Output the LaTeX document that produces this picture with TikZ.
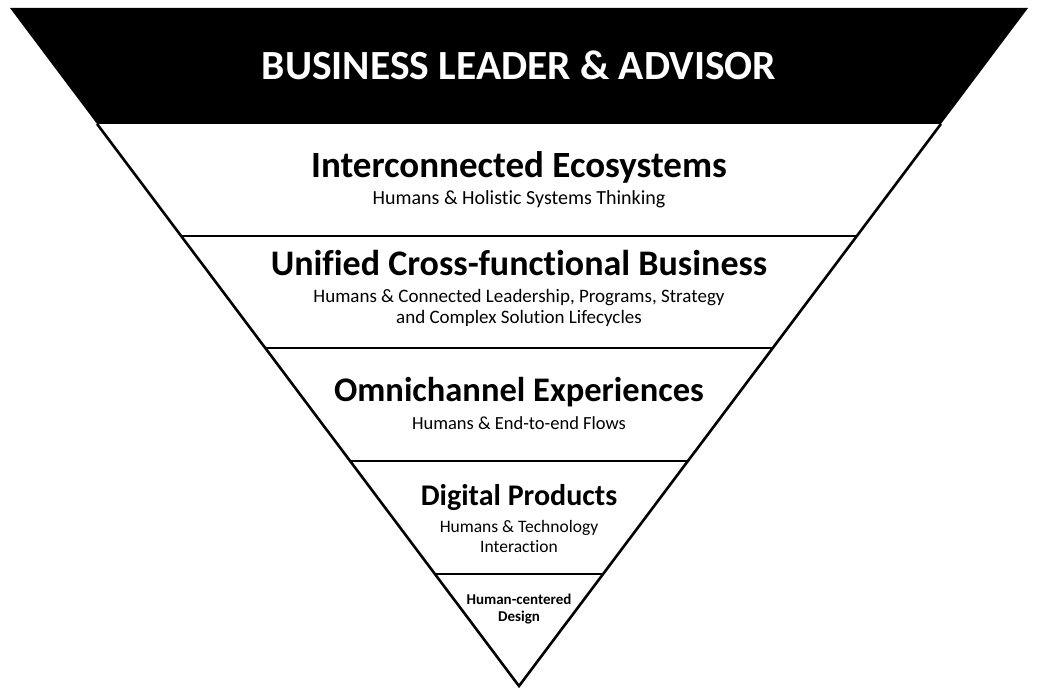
\documentclass[tikz,border=0pt]{standalone}
\usepackage{fontspec}
\setmainfont{Carlito}[Ligatures=NoCommon]
\usetikzlibrary{calc}
\tikzset{
  band/.style={line width=2.6pt, line join=miter},
  ttl/.style={anchor=base, inner sep=0pt, font=\bfseries\fontsize{34}{40}\selectfont},
  sub/.style={anchor=base, inner sep=0pt, font=\fontsize{17}{21}\selectfont},
}
\begin{document}
\begin{tikzpicture}[x=1pt,y=-1pt]
\useasboundingbox (0,0) rectangle (1038,693);
\coordinate (TL) at (10,8);
\coordinate (TR) at (1028,8);
\coordinate (A) at (519,686);
\foreach \n/\y in {a/124,b/236,c/348,d/461,e/574}{
  \coordinate (L\n) at ($(TL)!{(\y-8)/678}!(A)$);
  \coordinate (R\n) at ($(TR)!{(\y-8)/678}!(A)$);
}
\fill[black] (TL) -- (TR) -- (Ra) -- (La) -- cycle;
\draw[band] (La) -- (A) -- (Ra);
\foreach \n in {b,c,d,e}{\draw[band] (L\n) -- (R\n);}
\node[ttl, text=white, font=\bfseries\fontsize{41.5}{48}\selectfont] (t0) at (519,79) {BUSINESS LEADER \& ADVISOR};
\node[ttl, font=\bfseries\fontsize{37}{44}\selectfont] (t1) at (519,177) {Interconnected Ecosystems};
\node[sub, font=\fontsize{20}{24}\selectfont] (s1) at (519,204.5) {Humans \& Holistic Systems Thinking};
\node[ttl, font=\bfseries\fontsize{36}{42}\selectfont] (t2) at (519,275) {Unified Cross-functional Business};
\node[sub, font=\fontsize{19}{23}\selectfont] (s2a) at (519,302) {Humans \& Connected Leadership, Programs, Strategy};
\node[sub, font=\fontsize{19}{23}\selectfont] (s2b) at (519,323.5) {and Complex Solution Lifecycles};
\node[ttl, font=\bfseries\fontsize{34.5}{40}\selectfont] (t3) at (519,401) {Omnichannel Experiences};
\node[sub, font=\fontsize{18.5}{22}\selectfont] (s3) at (519,429) {Humans \& End-to-end Flows};
\node[ttl, font=\bfseries\fontsize{30}{36}\selectfont] (t4) at (519,505) {Digital Products};
\node[sub, font=\fontsize{17.5}{21}\selectfont] (s4a) at (519,532) {Humans \& Technology};
\node[sub, font=\fontsize{17.5}{21}\selectfont] (s4b) at (519,552) {Interaction};
\node[ttl, font=\bfseries\fontsize{15}{18}\selectfont] (t5) at (519,604) {Human-centered};
\node[ttl, font=\bfseries\fontsize{15}{18}\selectfont] (t5b) at (519,621) {Design};
\end{tikzpicture}
\end{document}
